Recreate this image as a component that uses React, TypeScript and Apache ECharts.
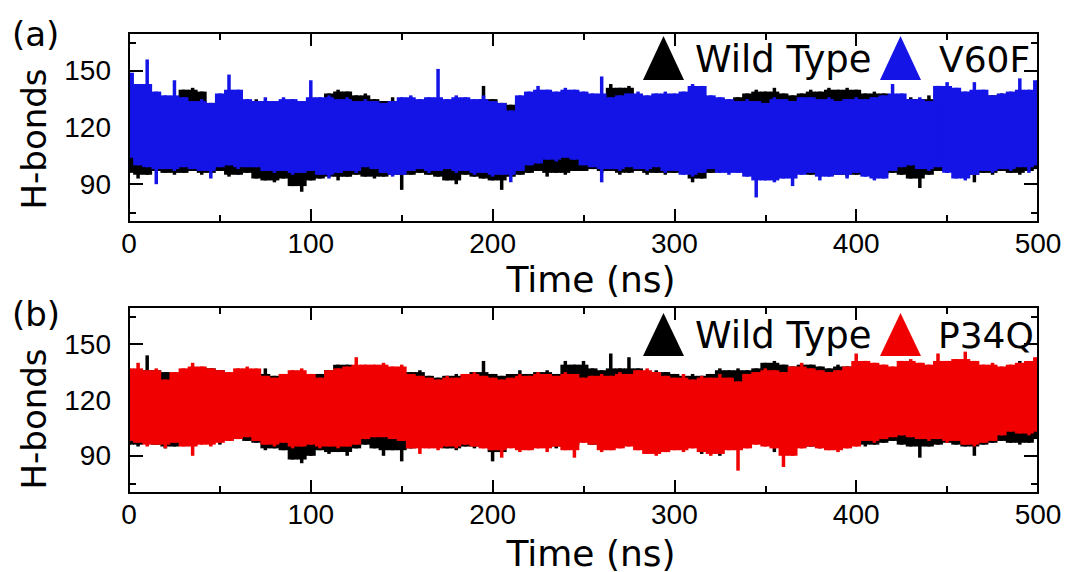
import React, { useEffect, useRef } from "react";
import * as echarts from "echarts";

// ---- data (H-bonds envelope per 5 ns bin) ----
const TIME_STEP_NS = 5;
const X_MAX = 500;
const Y_MIN = 70;
const Y_MAX = 170;
const Y_MAJOR = [90, 120, 150];
const Y_MINOR = [75, 105, 135, 165];

// panel (a): Wild Type vs V60F
const A_WT_HI = [
  140,138,137,136,135,134,140,141,139,133,134,135,134,133,135,134,133,132,134,133,135,134,138,140,139,137,
  138,135,134,136,134,133,134,133,134,135,134,135,134,142,135,133,132,134,135,136,135,136,137,136,
  136,135,137,143,141,142,136,135,134,136,135,134,136,135,134,135,134,136,138,140,139,141,138,137,138,
  140,139,141,140,141,140,138,139,138,136,135,136,135,137,134,135,136,135,134,136,137,138,137,136,135,137,
];
const A_WT_LO = [
  96,93,95,97,96,95,96,97,95,96,97,94,95,96,93,92,91,93,89,86,92,93,94,92,94,95,
  94,93,94,95,87,95,96,95,94,92,90,95,94,93,92,87,94,95,96,97,94,96,95,97,
  97,98,96,97,95,96,97,95,96,95,96,97,91,93,96,97,98,97,96,97,98,96,95,97,96,
  95,94,96,95,94,95,96,95,94,96,95,93,88,95,97,96,97,95,91,96,95,97,96,95,97,98,
];
const A_V60F_HI = [
  149,143,156,139,137,145,136,134,135,133,138,148,140,135,134,136,134,136,135,134,145,136,137,135,136,134,
  135,134,133,134,136,137,135,136,151,135,137,136,135,137,134,133,129,137,139,142,140,139,141,140,
  139,138,147,136,137,138,139,137,138,139,138,139,143,142,137,136,135,134,135,134,133,136,135,134,136,
  136,135,136,134,135,136,135,136,137,143,138,135,136,134,142,144,141,139,144,140,137,138,139,146,140,145,
];
const A_V60F_LO = [
  104,100,99,90,98,97,99,98,97,93,99,100,98,99,99,97,96,97,95,96,97,95,93,96,97,96,
  99,98,96,94,95,97,98,96,97,98,96,97,95,96,94,95,91,97,100,101,103,102,104,103,
  100,99,91,98,97,99,98,97,99,96,97,95,94,96,98,96,95,96,94,83,92,91,93,89,95,
  96,92,94,95,93,96,94,92,93,97,99,100,98,97,99,96,93,92,95,97,96,98,97,99,96,100,
];

// panel (b): Wild Type vs P34Q
const B_WT_HI = [
  135,134,144,136,135,134,133,135,137,137,136,133,134,133,134,137,133,132,133,134,133,134,136,139,139,137,
  135,134,133,134,133,135,136,133,132,133,134,133,135,141,134,133,134,136,134,135,136,134,141,139,
  141,137,136,145,137,143,137,135,136,135,134,133,134,133,134,137,136,137,136,137,140,141,139,138,139,
  139,138,137,139,138,137,136,138,137,136,137,136,138,137,136,137,138,137,136,138,139,137,138,141,139,137,
];
const B_WT_LO = [
  96,95,97,96,94,95,96,95,97,98,96,99,100,98,97,93,94,93,88,86,90,93,91,92,90,94,
  96,94,90,93,87,94,95,96,95,94,93,95,94,95,87,92,95,94,96,95,96,94,95,96,
  98,96,95,96,95,97,96,92,96,97,96,95,97,91,95,90,97,95,96,98,97,92,97,91,97,
  95,94,95,96,97,96,95,96,97,98,96,95,89,95,96,97,96,95,90,96,97,98,97,96,97,99,
];
const B_P34Q_HI = [
  137,140,136,137,131,135,137,140,138,137,136,135,137,138,137,133,132,134,136,137,134,132,136,137,138,143,
  139,139,140,138,139,134,133,132,131,133,132,134,135,133,132,131,132,134,133,135,134,133,135,134,
  132,133,134,133,135,134,136,137,135,133,132,134,131,133,132,134,132,130,134,135,137,136,135,138,140,
  137,136,135,136,138,145,141,140,139,138,141,142,140,139,145,141,142,146,141,139,140,138,139,140,141,143,
];
const B_P34Q_LO = [
  98,97,95,96,94,97,95,90,96,95,97,98,99,100,98,96,95,97,94,95,96,94,95,94,95,96,
  99,100,100,99,98,94,91,94,93,95,94,96,95,94,93,89,94,92,93,94,92,95,93,89,
  97,96,92,93,94,95,93,91,90,92,93,92,94,92,90,91,93,82,94,96,95,94,84,90,94,
  95,94,93,92,94,95,98,97,99,100,101,100,99,98,99,97,98,96,95,97,98,101,103,102,101,103,
];

// ---- styles / layout ----
const W = 1067;
const H = 572;
const GRID_A = { left: 129, right: 29, top: 33, height: 189 };
const GRID_B = { left: 129, right: 29, top: 307, height: 186 };
const C_WT = "#000000";
const C_V60F = "#1414e6";
const C_P34Q = "#f00000";
const TITLE_FONT = "DejaVu Sans";
const TICK_FONT = "Liberation Sans";
const NEEDLE_PX = 3.5;

// each 5 ns bin: a full-width span (local peaks clamped to the higher neighbour)
// plus a thin needle reaching the bin's own extremes -> ragged trajectory edge
function bandSeries(name: string, color: string, lo: number[], hi: number[], g: number) {
  const data = lo.map((l, i) => [i * TIME_STEP_NS, l, hi[i]]);
  return {
    type: "custom",
    name,
    xAxisIndex: g * 2,
    yAxisIndex: g * 4,
    silent: true,
    clip: true,
    encode: { x: 0, y: [1, 2] },
    data,
    renderItem: (params: any, api: any) => {
      const i = params.dataIndex;
      const t = api.value(0);
      const l = api.value(1);
      const h = api.value(2);
      const hPrev = i > 0 ? hi[i - 1] : h;
      const hNext = i < hi.length - 1 ? hi[i + 1] : h;
      const lPrev = i > 0 ? lo[i - 1] : l;
      const lNext = i < lo.length - 1 ? lo[i + 1] : l;
      const coreHi = Math.min(h, Math.max(hPrev, hNext));
      const coreLo = Math.max(l, Math.min(lPrev, lNext));
      const half = TIME_STEP_NS / 2;
      const cs = params.coordSys;
      const clipBox = { x: cs.x, y: cs.y, width: cs.width, height: cs.height };
      const a = api.coord([t - half, coreHi]);
      const b = api.coord([t + half, coreLo]);
      const core = echarts.graphic.clipRectByRect(
        { x: a[0] - 0.4, y: a[1], width: b[0] - a[0] + 0.8, height: b[1] - a[1] },
        clipBox
      );
      const top = api.coord([t, h]);
      const bot = api.coord([t, l]);
      const needle = echarts.graphic.clipRectByRect(
        { x: top[0] - NEEDLE_PX / 2, y: top[1], width: NEEDLE_PX, height: bot[1] - top[1] },
        clipBox
      );
      const children: any[] = [];
      if (core) children.push({ type: "rect", shape: core, style: { fill: color } });
      if (needle) children.push({ type: "rect", shape: needle, style: { fill: color } });
      return { type: "group", children };
    },
  };
}

const tickLine = { color: "#000", width: 2 };

function xAxes(g: number) {
  const base: any = {
    gridIndex: g,
    type: "value",
    min: 0,
    max: X_MAX,
    interval: 100,
    axisLine: { show: false },
    splitLine: { show: false },
    axisTick: { show: true, inside: true, length: 13, lineStyle: tickLine },
    minorTick: { show: true, splitNumber: 2, length: 7, lineStyle: tickLine },
  };
  return [
    {
      ...base,
      position: "bottom",
      axisLabel: { show: true, fontSize: 28, fontFamily: TICK_FONT, color: "#000", margin: 7 },
    },
    { ...base, position: "top", axisLabel: { show: false } },
  ];
}

function yAxes(g: number) {
  const base: any = {
    gridIndex: g,
    type: "value",
    min: Y_MIN,
    max: Y_MAX,
    axisLine: { show: false },
    splitLine: { show: false },
  };
  const major = { show: true, inside: true, length: 14, customValues: Y_MAJOR, lineStyle: tickLine };
  const minor = { show: true, inside: true, length: 7, customValues: Y_MINOR, lineStyle: tickLine };
  return [
    {
      ...base,
      position: "left",
      axisTick: major,
      axisLabel: { show: true, customValues: Y_MAJOR, fontSize: 28, fontFamily: TICK_FONT, color: "#000", margin: 18 },
    },
    { ...base, position: "left", axisTick: minor, axisLabel: { show: false } },
    { ...base, position: "right", axisTick: major, axisLabel: { show: false } },
    { ...base, position: "right", axisTick: minor, axisLabel: { show: false } },
  ];
}

function txt(text: string, x: number, y: number, size: number, align = "left", rotation = 0) {
  return {
    type: "text",
    x,
    y,
    rotation,
    z: 100,
    silent: true,
    style: { text, fontSize: size, fontFamily: TITLE_FONT, fill: "#000", align, verticalAlign: "middle" },
  };
}

function tri(cx: number, top: number, bottom: number, halfW: number, color: string) {
  return {
    type: "polygon",
    z: 100,
    silent: true,
    shape: { points: [[cx - halfW, bottom], [cx + halfW, bottom], [cx, top]] },
    style: { fill: color },
  };
}

function frame(g: { left: number; right: number; top: number; height: number }) {
  return {
    type: "rect",
    z: 100,
    silent: true,
    shape: { x: g.left, y: g.top, width: W - g.left - g.right, height: g.height },
    style: { fill: "none", stroke: "#000", lineWidth: 2 },
  };
}

export default function App() {
  const ref = useRef<HTMLDivElement>(null);
  useEffect(() => {
    document.body.style.margin = "0";
    if (!ref.current) return;
    const chart = echarts.init(ref.current, undefined, { renderer: "svg" });
    const option: any = {
      animation: false,
      backgroundColor: "#ffffff",
      grid: [
        { ...GRID_A, containLabel: false },
        { ...GRID_B, containLabel: false },
      ],
      xAxis: [...xAxes(0), ...xAxes(1)],
      yAxis: [...yAxes(0), ...yAxes(1)],
      series: [
        bandSeries("Wild Type", C_WT, A_WT_LO, A_WT_HI, 0),
        bandSeries("V60F", C_V60F, A_V60F_LO, A_V60F_HI, 0),
        bandSeries("Wild Type", C_WT, B_WT_LO, B_WT_HI, 1),
        bandSeries("P34Q", C_P34Q, B_P34Q_LO, B_P34Q_HI, 1),
      ],
      graphic: [
        frame(GRID_A),
        frame(GRID_B),
        txt("(a)", 12, 34, 34),
        txt("(b)", 12, 314, 34),
        txt("H-bonds", 34, 139, 34, "center", Math.PI / 2),
        txt("H-bonds", 34, 419, 34, "center", Math.PI / 2),
        txt("Time (ns)", 591, 279, 36, "center"),
        txt("Time (ns)", 591, 553, 36, "center"),
        tri(663.5, 36, 80, 20.5, C_WT),
        txt("Wild Type", 695, 59, 37),
        tri(900.5, 36, 80, 20.5, C_V60F),
        txt("V60F", 939, 59, 36),
        tri(663.5, 313, 356, 20.5, C_WT),
        txt("Wild Type", 695, 335, 37),
        tri(900.5, 313, 356, 20.5, C_P34Q),
        txt("P34Q", 938, 335, 36),
      ],
    };
    chart.setOption(option);
    return () => chart.dispose();
  }, []);
  return <div ref={ref} style={{ width: W, height: H }} />;
}
